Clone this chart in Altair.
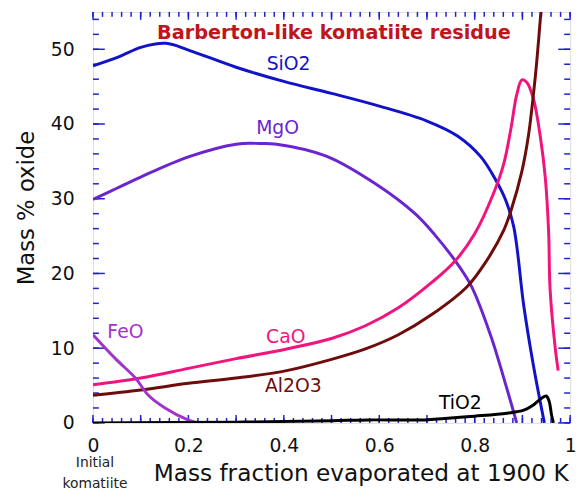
import altair as alt
import pandas as pd

# ---- data ----
sio2_x = [0, 0.054, 0.102, 0.153, 0.2, 0.3, 0.4, 0.5, 0.6, 0.7, 0.764, 0.813, 0.845, 0.865, 0.882, 0.903, 0.923, 0.946]
sio2_y = [47.8, 49.0, 50.3, 50.8, 49.9, 47.6, 45.7, 44.1, 42.4, 40.4, 38.4, 35.6, 32.4, 29.8, 26.2, 15.6, 7.7, 0]

mgo_x = [0, 0.05, 0.1, 0.2, 0.3, 0.35, 0.385, 0.489, 0.592, 0.675, 0.716, 0.758, 0.793, 0.834, 0.861, 0.888]
mgo_y = [29.9, 31.4, 32.9, 35.6, 37.3, 37.4, 37.3, 35.7, 32.0, 28.0, 25.2, 21.8, 18.3, 11.6, 6.0, 0]

cao_x = [0, 0.1, 0.2, 0.3, 0.406, 0.5, 0.571, 0.64, 0.71, 0.758, 0.8, 0.84, 0.861, 0.876, 0.888, 0.899, 0.909, 0.923, 0.938, 0.948, 0.955, 0.958, 0.969, 0.975]
cao_y = [5.1, 6.0, 7.3, 8.6, 9.9, 11.3, 13.0, 15.4, 18.8, 21.6, 25.3, 30.8, 34.7, 39.4, 43.9, 45.9, 45.6, 43.4, 38.1, 32.8, 25.5, 17.9, 9.9, 7.0]

al2o3_x = [0, 0.1, 0.2, 0.3, 0.406, 0.5, 0.571, 0.64, 0.71, 0.785, 0.826, 0.861, 0.876, 0.899, 0.913, 0.923, 0.93, 0.94]
al2o3_y = [3.7, 4.4, 5.3, 6.0, 7.0, 8.5, 9.9, 11.8, 14.5, 18.3, 21.8, 25.8, 28.4, 33.7, 38.6, 43.9, 48.3, 56.0]

feo_x = [0, 0.047, 0.089, 0.116, 0.151, 0.199, 0.22]
feo_y = [11.8, 8.6, 6.0, 3.7, 2.0, 0.4, 0]

tio2_x = [0, 0.3, 0.5, 0.578, 0.696, 0.737, 0.8, 0.868, 0.903, 0.923, 0.94, 0.95, 0.956, 0.961, 0.965]
tio2_y = [0, 0.1, 0.3, 0.4, 0.4, 0.6, 0.9, 1.3, 1.7, 2.4, 3.3, 3.6, 2.9, 1.1, 0]

series_names = ["SiO2", "MgO", "CaO", "Al2O3", "FeO", "TiO2"]
series_colors = ["#1212c8", "#6a24d0", "#f0147c", "#6e0c0c", "#a234cc", "#000000"]

label_x = [0.41, 0.387, 0.404, 0.42, 0.068, 0.77]
label_y = [48.0, 39.4, 11.5, 4.9, 12.2, 2.6]

title_text = "Barberton-like komatiite residue"
x_tick_values = [0, 0.2, 0.4, 0.6, 0.8, 1.0]
y_tick_values = [0, 10, 20, 30, 40, 50]

# ---- build tables ----
series_data = {
    "SiO2": (sio2_x, sio2_y), "MgO": (mgo_x, mgo_y), "CaO": (cao_x, cao_y),
    "Al2O3": (al2o3_x, al2o3_y), "FeO": (feo_x, feo_y), "TiO2": (tio2_x, tio2_y),
}
rows = []
for name, (xs, ys) in series_data.items():
    for i, (a, b) in enumerate(zip(xs, ys)):
        rows.append({"series": name, "x": a, "y": b, "order": i})
df = pd.DataFrame(rows)

labels_df = pd.DataFrame({"series": series_names, "x": label_x, "y": label_y})

W, H = 483, 416
FONT = "DejaVu Sans"
FRAME = "#2020d0"

xscale = alt.Scale(domain=[0, 1], nice=False, zero=False)
yscale = alt.Scale(domain=[0, 55], nice=False, zero=False)
cscale = alt.Scale(domain=series_names, range=series_colors)

x_axis = alt.Axis(values=x_tick_values, ticks=False, domain=False, grid=False,
                  labelExpr="datum.value == 0 ? '0' : datum.value == 1 ? '1' : format(datum.value, '.1f')",
                  labelFontSize=19, labelColor="#111111", labelFont=FONT, labelPadding=14,
                  labelFlush=False,
                  title="Mass fraction evaporated at 1900 K", titleFontSize=23.5, titleFont=FONT,
                  titleFontWeight="normal", titleColor="#111111",
                  titleX=271, titleY=51, titleAlign="center", titleBaseline="middle", titleAnchor="start")
y_axis = alt.Axis(values=y_tick_values, ticks=False, domain=False, grid=False,
                  labelFontSize=19, labelColor="#111111", labelFont=FONT, labelPadding=19,
                  title="Mass % oxide", titleFontSize=23, titleFont=FONT, titleFontWeight="normal",
                  titleColor="#111111", titleX=-67, titleY=198, titleAlign="center",
                  titleBaseline="middle", titleAnchor="start", titleAngle=270)

lines = alt.Chart(df).mark_line(strokeWidth=3, clip=True, interpolate="catmull-rom").encode(
    x=alt.X("x:Q", scale=xscale, axis=x_axis),
    y=alt.Y("y:Q", scale=yscale, axis=y_axis),
    color=alt.Color("series:N", scale=cscale, legend=None),
    detail="series:N",
    order="order:Q",
)

labels = alt.Chart(labels_df).mark_text(fontSize=19, font=FONT, align="center", baseline="middle").encode(
    x=alt.X("x:Q", scale=xscale),
    y=alt.Y("y:Q", scale=yscale),
    text="series:N",
    color=alt.Color("series:N", scale=cscale, legend=None),
)

title_df = pd.DataFrame({"x": [0.505], "y": [52.2], "t": [title_text]})
title = alt.Chart(title_df).mark_text(fontSize=19.5, font=FONT, fontWeight="bold", color="#c0141e",
                                     align="center", baseline="middle").encode(
    x=alt.X("x:Q", scale=xscale), y=alt.Y("y:Q", scale=yscale), text="t:N")

init_df = pd.DataFrame({"x": [0.0], "y": [0.0], "t": ["Initial\nkomatiite"]})
init = alt.Chart(init_df).mark_text(fontSize=14, font=FONT, color="#222222", align="center",
                                    baseline="top", dx=2, dy=34, lineBreak="\n", lineHeight=21).encode(
    x=alt.X("x:Q", scale=xscale), y=alt.Y("y:Q", scale=yscale), text="t:N")

# inward ticks on all four sides
xmin = [round(i * 0.02, 2) for i in range(51)]
xmaj = [round(i * 0.1, 1) for i in range(11)]
ymin = [i * 2 for i in range(28)]
ymaj = [i * 10 for i in range(6)]

def xticks(vals, length):
    d = pd.DataFrame({"v": vals})
    bot = alt.Chart(d).mark_rule(color=FRAME, strokeWidth=1.5).encode(
        x=alt.X("v:Q", scale=xscale), y=alt.value(H), y2=alt.value(H - length))
    top = alt.Chart(d).mark_rule(color=FRAME, strokeWidth=1.5).encode(
        x=alt.X("v:Q", scale=xscale), y=alt.value(0), y2=alt.value(length))
    return bot + top

def yticks(vals, length):
    d = pd.DataFrame({"v": vals})
    left = alt.Chart(d).mark_rule(color=FRAME, strokeWidth=1.5).encode(
        y=alt.Y("v:Q", scale=yscale), x=alt.value(0), x2=alt.value(length))
    right = alt.Chart(d).mark_rule(color=FRAME, strokeWidth=1.5).encode(
        y=alt.Y("v:Q", scale=yscale), x=alt.value(W), x2=alt.value(W - length))
    return left + right

chart = alt.layer(
    xticks(xmin, 5), xticks(xmaj, 8), yticks(ymin, 6), yticks(ymaj, 12),
    lines, labels, title, init,
).properties(
    width=W, height=H,
    autosize=alt.AutoSizeParams(type="none"),
    padding={"left": 86, "top": 1, "right": 10, "bottom": 70},
).configure_view(stroke=FRAME, strokeWidth=2.5).configure(background="white")

chart.save("out.html", embed_options={"renderer": "svg", "actions": False})
